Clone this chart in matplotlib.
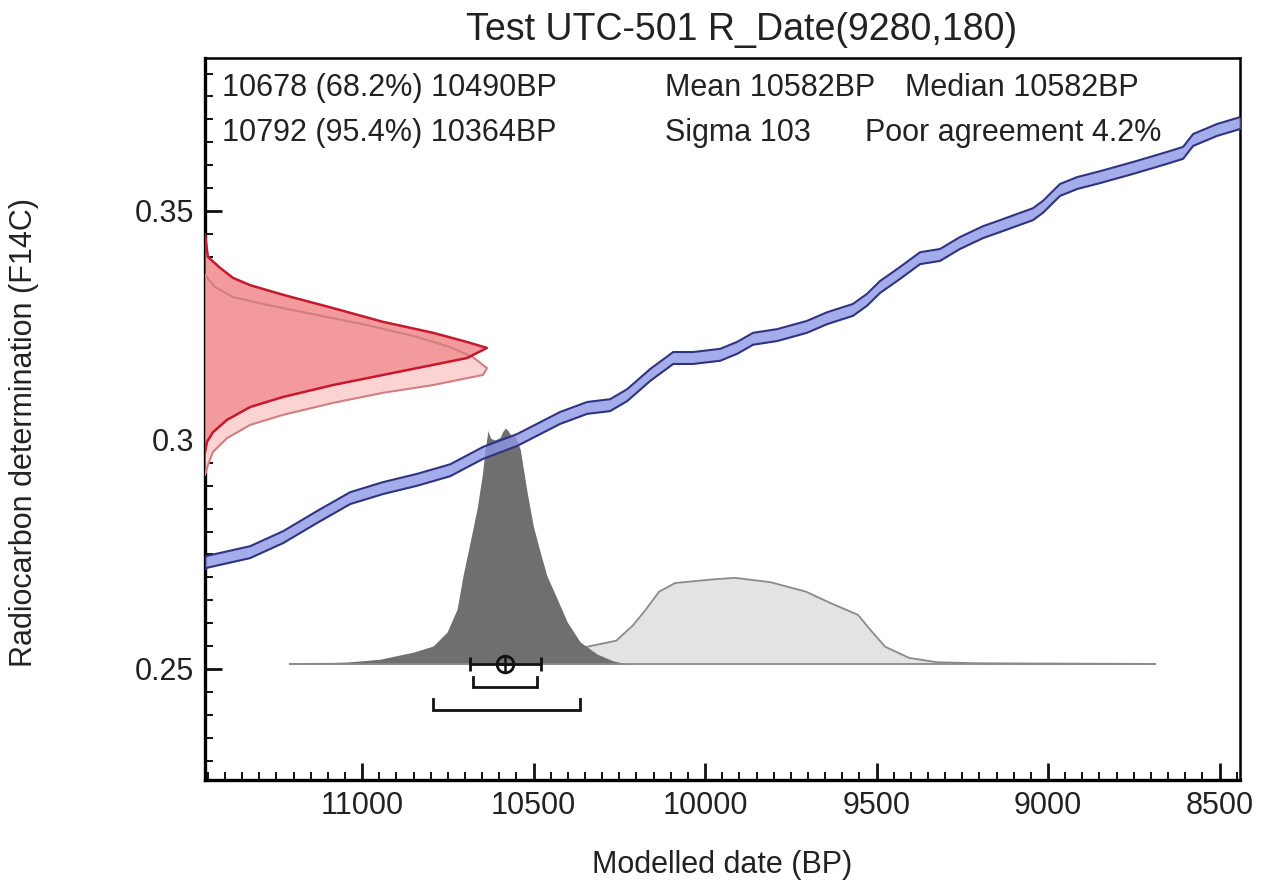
import matplotlib
matplotlib.use("Agg")
import matplotlib.pyplot as plt
import numpy as np
from matplotlib.ticker import MultipleLocator

plt.rcParams['font.family'] = ['Liberation Sans', 'DejaVu Sans']

# calibration curve (BP, F14C)
cal_bp = [11458, 11452, 11327, 11230, 11131, 11035, 10939, 10840, 10743, 10647,
          10548, 10423, 10344, 10277, 10227, 10160, 10093, 10035, 9956, 9907,
          9860, 9790, 9703, 9644, 9569, 9528, 9490, 9431, 9373, 9315,
          9257, 9189, 9140, 9044, 9015, 8965, 8915, 8848, 8752, 8653,
          8606, 8577, 8507, 8440]
cal_f = [0.2731, 0.2734, 0.2755, 0.2788, 0.2832, 0.2873, 0.2895, 0.2913, 0.2934, 0.2972,
         0.3000, 0.3048, 0.3070, 0.3076, 0.3098, 0.3142, 0.3179, 0.3179, 0.3186, 0.3201,
         0.3221, 0.3229, 0.3247, 0.3266, 0.3284, 0.3306, 0.3334, 0.3365, 0.3397, 0.3404,
         0.3430, 0.3454, 0.3467, 0.3493, 0.3509, 0.3546, 0.3561, 0.3574, 0.3594, 0.3616,
         0.3627, 0.3655, 0.3677, 0.3692]
cal_sigma = 0.0013

# radiocarbon measurement R_Date(9280,180) (F14C, relative density)
meas_f = [0.3360, 0.3334, 0.3312, 0.3295, 0.3273, 0.3251, 0.3225, 0.3203, 0.3181,
          0.3157, 0.3142, 0.3135, 0.3120, 0.3103, 0.3081, 0.3055, 0.3033, 0.3004,
          0.2974, 0.2945, 0.2924]
meas_p = [0.0, 0.035, 0.099, 0.22, 0.397, 0.574, 0.752, 0.869, 0.95,
          1.0, 0.986, 0.929, 0.809, 0.631, 0.454, 0.277, 0.16, 0.078,
          0.028, 0.01, 0.0]
post_f = [0.3448, 0.3400, 0.3376, 0.3354, 0.3338, 0.3317, 0.3288, 0.3258, 0.3234,
          0.3214, 0.3201, 0.3179, 0.3164, 0.3142, 0.3120, 0.3094, 0.3072, 0.3044,
          0.3017, 0.2996, 0.2974]
post_p = [0.0, 0.01, 0.053, 0.099, 0.16, 0.277, 0.454, 0.631, 0.809,
          0.929, 1.0, 0.929, 0.809, 0.631, 0.454, 0.277, 0.16, 0.078,
          0.028, 0.007, 0.0]

# unmodelled (light) and modelled (dark) date distributions
like_bp = [11210, 10598, 10548, 10452, 10356, 10259, 10210, 10175, 10134, 10087,
           9983, 9913, 9810, 9706, 9636, 9554, 9519, 9475, 9405, 9324, 9207, 8688]
like_p = [0.0, 0.01, 0.02, 0.10, 0.19, 0.27, 0.45, 0.62, 0.84, 0.94,
          0.98, 1.0, 0.95, 0.84, 0.71, 0.57, 0.40, 0.20, 0.07, 0.02, 0.008, 0.0]
mod_bp = [11210, 11044, 10948, 10851, 10793, 10752, 10723, 10706, 10685, 10665,
          10650, 10641, 10633, 10629, 10624, 10612, 10598, 10590, 10583, 10575,
          10569, 10554, 10539, 10519, 10501, 10481, 10461, 10431, 10402, 10364,
          10315, 10268, 10227]
mod_p = [0.0, 0.008, 0.02, 0.05, 0.076, 0.136, 0.233, 0.373, 0.517, 0.657,
         0.797, 0.911, 0.99, 0.97, 0.955, 0.95, 0.96, 0.985, 1.0, 0.99,
         0.975, 0.965, 0.91, 0.729, 0.585, 0.475, 0.373, 0.275, 0.178, 0.093,
         0.042, 0.013, 0.0]

mean_bp = 10582
sigma_bp = 103
range68 = (10678, 10490)
range95 = (10792, 10364)

fig = plt.figure(figsize=(12.65, 8.9), dpi=100)
ax = fig.add_axes([0.1621, 0.1236, 0.8182, 0.8112])
x0, x1 = 11458, 8440
ax.set_xlim(x0, x1)
ax.set_ylim(0.22576, 0.3834)

base = 0.2511
like_h = 0.0188
mod_h = 0.0515
ax.fill_between(like_bp, base, base + like_h * np.array(like_p),
                color='#e3e3e3', lw=0, zorder=1)
ax.plot(like_bp, base + like_h * np.array(like_p), color='#8a8a8a', lw=1.3, zorder=1.5)
ax.fill_between(mod_bp, base, base + mod_h * np.array(mod_p),
                color='#6f6f6f', lw=0, zorder=2)
ax.plot([like_bp[0], like_bp[-1]], [base, base], color='#8a8a8a', lw=1.3, zorder=2.5)

# calibration curve band
cf = np.array(cal_f)
ax.fill_between(cal_bp, cf - cal_sigma, cf + cal_sigma, color='#8f97e6', alpha=0.8,
                lw=0, zorder=3)
ax.plot(cal_bp, cf - cal_sigma, color='#2f347f', lw=1.5, zorder=3.2)
ax.plot(cal_bp, cf + cal_sigma, color='#2f347f', lw=1.5, zorder=3.2)

# measurement on the y axis
red_w = 822
mx = x0 - red_w * np.array(meas_p)
px = x0 - red_w * np.array(post_p)
ax.fill_betweenx(meas_f, x0, mx, color='#fbd3d3', lw=0, zorder=4)
ax.fill_betweenx(post_f, x0, px, color='#f29a9c', lw=0, zorder=4.1)
ax.plot(mx, meas_f, color='#d27f80', lw=1.5, zorder=4.2)
ax.plot(px, post_f, color='#c8182b', lw=1.8, zorder=4.3)

# mean / sigma marker and ranges
ax.errorbar(mean_bp, base, xerr=sigma_bp, fmt='none', ecolor='#111111',
            elinewidth=2, capsize=5, capthick=2, zorder=6)
ax.plot(mean_bp, base, 'o', ms=12, mfc='none', mec='#111111', mew=2, zorder=6)
ax.plot(mean_bp, base, '+', ms=12, mec='#111111', mew=1.8, zorder=6)
for (a, b), yb, tk in [(range68, 0.2461, 0.0022), (range95, 0.2410, 0.0024)]:
    ax.plot([a, a, b, b], [yb + tk, yb, yb, yb + tk], color='#111111', lw=2,
            zorder=6, solid_joinstyle='miter')

ax.xaxis.set_major_locator(MultipleLocator(500))
ax.xaxis.set_minor_locator(MultipleLocator(50))
ax.yaxis.set_major_locator(MultipleLocator(0.05))
ax.yaxis.set_minor_locator(MultipleLocator(0.005))
ax.yaxis.set_major_formatter(matplotlib.ticker.FuncFormatter(lambda v, p: f"{v:g}"))
ax.tick_params(which='both', direction='in', top=False, right=False,
               labelsize=22, colors='#111111', labelcolor='#222222', pad=8)
ax.tick_params(which='major', length=12, width=2)
ax.tick_params(which='minor', length=6, width=1.4)
for s in ['left', 'bottom']:
    ax.spines[s].set_linewidth(2.4)
for s in ['top', 'right']:
    ax.spines[s].set_linewidth(1.8)

ax.set_xlabel('Modelled date (BP)', fontsize=22, color='#222222')
ax.xaxis.set_label_coords(0.5, -0.097)
ax.set_ylabel('Radiocarbon determination (F14C)', fontsize=22, color='#222222')
ax.yaxis.set_label_coords(-0.16, 0.482)

fig.text(0.5866, 0.966, 'Test UTC-501 R_Date(9280,180)', fontsize=27,
         ha='center', va='center', color='#222222')

tk = dict(fontsize=22, color='#222222', va='center', transform=ax.transAxes)
ax.text(0.0164, 0.958, '10678 (68.2%) 10490BP', **tk)
ax.text(0.0164, 0.896, '10792 (95.4%) 10364BP', **tk)
ax.text(0.444, 0.958, 'Mean 10582BP', **tk)
ax.text(0.676, 0.958, 'Median 10582BP', **tk)
ax.text(0.444, 0.896, 'Sigma 103', **tk)
ax.text(0.638, 0.896, 'Poor agreement 4.2%', **tk)

fig.savefig('out.png', dpi=100)
